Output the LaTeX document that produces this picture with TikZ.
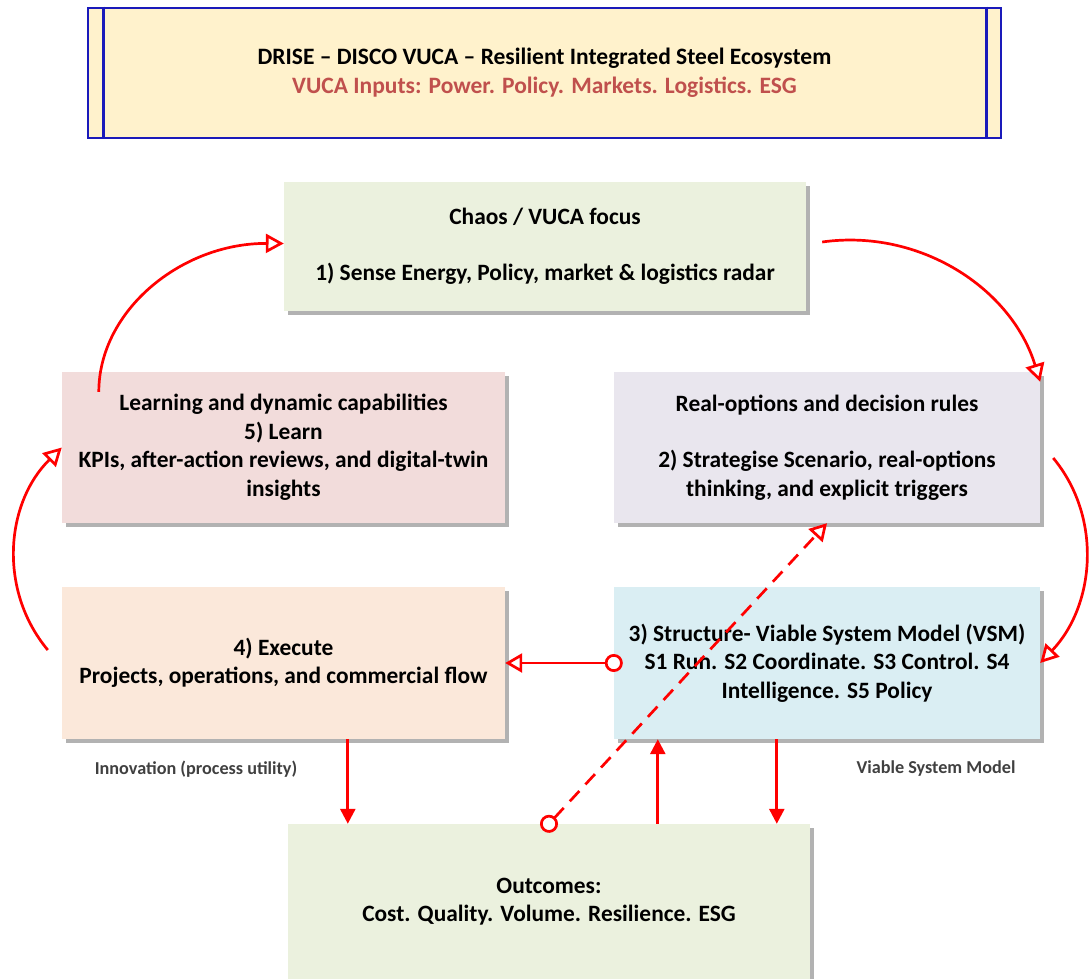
\documentclass[tikz,border=0pt]{standalone}
\usepackage{fontspec}
\setmainfont{Carlito}
\usetikzlibrary{arrows.meta,calc,shadows}
\definecolor{titlefill}{HTML}{FFF2CC}
\definecolor{titleblue}{HTML}{1A1ABA}
\definecolor{titlered}{HTML}{C0504D}
\definecolor{cgreen}{HTML}{EBF1DE}
\definecolor{cpink}{HTML}{F2DCDB}
\definecolor{clav}{HTML}{E9E6EE}
\definecolor{cpeach}{HTML}{FBE8DA}
\definecolor{cblue}{HTML}{DAEEF3}
\definecolor{labgray}{HTML}{404040}
\definecolor{arrred}{HTML}{FF0000}
\begin{document}
\begin{tikzpicture}[x=1pt,y=-1pt,
  box/.style={rectangle, inner sep=0pt, align=center,
    font=\fontsize{23.4}{28.5}\selectfont\bfseries,
    drop shadow={shadow xshift=4pt,shadow yshift=-4pt,fill=black!55,opacity=.55}},
  sidelabel/.style={font=\fontsize{18.2}{21}\selectfont\bfseries, text=labgray, inner sep=0pt},
  redline/.style={draw=arrred, line width=2.7pt},
  openhead/.style={-{Triangle[open,length=18pt,width=19pt,fill=white]}},
  solidhead/.style={-{Triangle[length=15pt,width=15pt]}},
  circstart/.style={{Circle[open,length=18pt,width=18pt,fill=white]}-{Triangle[open,length=17pt,width=19pt,fill=white]}}
]
\useasboundingbox (0,0) rectangle (1089,979);

% title
\node[rectangle, draw=titleblue, line width=2.6pt, fill=titlefill, inner sep=0pt,
  minimum width=913pt, minimum height=130pt, align=center,
  font=\fontsize{23.5}{29}\selectfont\bfseries] (title) at (544.5,73)
  {DRISE – DISCO VUCA – Resilient Integrated Steel Ecosystem\\
   \textcolor{titlered}{VUCA Inputs: Power. Policy. Markets. Logistics. ESG}};
\draw[draw=titleblue, line width=2.6pt] ($(title.north west)+(17,0)$) -- ($(title.south west)+(17,0)$);
\draw[draw=titleblue, line width=2.6pt] ($(title.north east)+(-16,0)$) -- ($(title.south east)+(-16,0)$);

% boxes
\node[box, fill=cgreen, minimum width=522pt, minimum height=129pt] (chaos) at (545,246.5)
  {Chaos / VUCA focus\\[28pt]1) Sense Energy, Policy, market \& logistics radar};
\node[box, fill=cpink, minimum width=443pt, minimum height=151pt] (learn) at (283.5,447.5)
  {Learning and dynamic capabilities\\5) Learn\\KPIs, after-action reviews, and digital-twin\\insights};
\node[box, fill=clav, minimum width=426pt, minimum height=151pt] (ropt) at (827,447.5)
  {Real-options and decision rules\\[28pt]2) Strategise Scenario, real-options\\thinking, and explicit triggers};
\node[box, fill=cpeach, minimum width=443pt, minimum height=152pt] (exe) at (283.5,663)
  {4) Execute\\Projects, operations, and commercial flow};
\node[box, fill=cblue, minimum width=426pt, minimum height=152pt] (struct) at (827,663)
  {3) Structure- Viable System Model (VSM)\\S1 Run. S2 Coordinate. S3 Control. S4\\Intelligence. S5 Policy};
\node[box, fill=cgreen, minimum width=522pt, minimum height=155pt] (outc) at (549,901.5)
  {Outcomes:\\Cost. Quality. Volume. Resilience. ESG};

% side labels
\node[sidelabel] (innov) at (196,769) {Innovation (process utility)};
\node[sidelabel] (vsm) at (936,769) {Viable System Model};

% curved cycle arrows
\draw[redline, openhead] ($(learn.north west)+(37,20)$) .. controls (99,310) and (182,243) .. ($(chaos.west)+(0,-3)$);
\draw[redline, openhead] ($(chaos.east)+(16,-4.5)$) .. controls (919.4,228.3) and (1011.3,287.9) .. ($(ropt.north east)+(0,10)$);
\draw[redline, openhead] ($(ropt.east)+(13,10.5)$) .. controls (1103,518) and (1094.6,605.9) .. (struct.east);
\draw[redline, openhead] ($(exe.west)+(-14,-13)$) .. controls (-2.3,589.9) and (5.8,502.6) .. (learn.west);

% structure -> execute
\draw[redline, circstart] ($(struct.west)+(9,0)$) -- (exe.east);

% dashed diagonal
\draw[redline, circstart, dash pattern=on 14pt off 9pt] ($(outc.north)!-9pt!(ropt.south)$) -- (ropt.south);

% vertical arrows
\coordinate (a1) at ($(outc.north west)+(60,0)$);
\coordinate (a2) at ($(struct.south west)+(44,0)$);
\coordinate (a3) at ($(struct.south west)+(163,0)$);
\draw[redline, solidhead, fill=arrred] (a1 |- exe.south) -- (a1);
\draw[redline, solidhead, fill=arrred] (a2 |- outc.north) -- (a2);
\draw[redline, solidhead, fill=arrred] (a3) -- (a3 |- outc.north);
\end{tikzpicture}
\end{document}
